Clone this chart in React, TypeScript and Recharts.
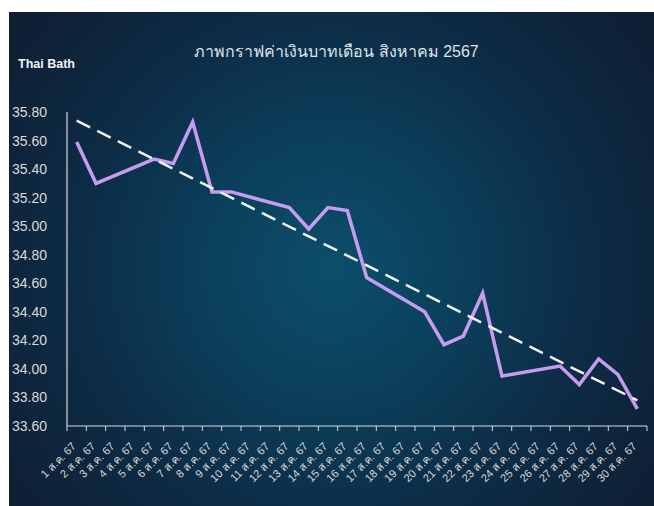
import React from "react";
import { LineChart, Line, XAxis, YAxis } from "recharts";

const days: string[] = [
  "1 ส.ค. 67", "2 ส.ค. 67", "3 ส.ค. 67", "4 ส.ค. 67", "5 ส.ค. 67",
  "6 ส.ค. 67", "7 ส.ค. 67", "8 ส.ค. 67", "9 ส.ค. 67", "10 ส.ค. 67",
  "11 ส.ค. 67", "12 ส.ค. 67", "13 ส.ค. 67", "14 ส.ค. 67", "15 ส.ค. 67",
  "16 ส.ค. 67", "17 ส.ค. 67", "18 ส.ค. 67", "19 ส.ค. 67", "20 ส.ค. 67",
  "21 ส.ค. 67", "22 ส.ค. 67", "23 ส.ค. 67", "24 ส.ค. 67", "25 ส.ค. 67",
  "26 ส.ค. 67", "27 ส.ค. 67", "28 ส.ค. 67", "29 ส.ค. 67", "30 ส.ค. 67",
];

const rates: (number | null)[] = [
  35.59, 35.30, null, null, 35.47,
  35.44, 35.73, 35.24, 35.24, null,
  null, 35.13, 34.98, 35.13, 35.11,
  34.64, null, null, 34.40, 34.17,
  34.23, 34.53, 33.95, null, null,
  34.02, 33.89, 34.07, 33.96, 33.72,
];

// linear trend line endpoints
const trendStart = 35.74;
const trendEnd = 33.78;

const yTicks: number[] = [33.6, 33.8, 34.0, 34.2, 34.4, 34.6, 34.8, 35.0, 35.2, 35.4, 35.6, 35.8];

const title = "ภาพกราฟค่าเงินบาทเดือน สิงหาคม 2567";
const yTitle = "Thai Bath";

const data = days.map((d, i) => ({
  day: d,
  rate: rates[i],
  trend: i === 0 ? trendStart : i === days.length - 1 ? trendEnd : null,
}));

const FONT = '"Liberation Sans", Arial, "Noto Sans", sans-serif';
const AXIS = "#d9d9d9";

const XTick = (props: any) => {
  const { x, y, payload, index, visibleTicksCount } = props;
  const off = payload && payload.offset != null ? payload.offset : 580 / 30 / 2;
  const ty = y + 21;
  return (
    <g>
      <line x1={x - off} x2={x - off} y1={y} y2={y + 5} stroke={AXIS} strokeWidth={1} />
      {index === visibleTicksCount - 1 && (
        <line x1={x + off} x2={x + off} y1={y} y2={y + 5} stroke={AXIS} strokeWidth={1} />
      )}
      <text
        x={x}
        y={ty}
        transform={`rotate(-45 ${x} ${ty})`}
        textAnchor="end"
        fontSize={11}
        fill={AXIS}
        fontFamily={FONT}
      >
        {payload.value}
      </text>
    </g>
  );
};

export default function App() {
  return (
    <div
      style={{
        position: "absolute",
        left: 9,
        top: 12,
        width: 645,
        height: 494,
        overflow: "hidden",
        background:
          "radial-gradient(circle at 50% 52%, #0c4e6b 0%, #0b405c 30%, #0d2c46 62%, #0f1d32 100%)",
        fontFamily: FONT,
      }}
    >
      <div
        style={{
          position: "absolute",
          left: 0,
          width: 655,
          top: 27,
          textAlign: "center",
          fontSize: 16,
          color: "#dfe3e8",
          whiteSpace: "nowrap",
        }}
      >
        {title}
      </div>
      <div
        style={{
          position: "absolute",
          left: 9,
          top: 45,
          fontSize: 12.5,
          fontWeight: "bold",
          color: "#f2f2f2",
        }}
      >
        {yTitle}
      </div>
      <LineChart
        width={645}
        height={494}
        data={data}
        margin={{ top: 100, right: 7, left: 0, bottom: 0 }}
      >
        <XAxis
          dataKey="day"
          scale="band"
          interval={0}
          height={80}
          tickSize={0}
          tickMargin={0}
          tickLine={false}
          stroke={AXIS}
          axisLine={{ stroke: AXIS, strokeWidth: 1.2 }}
          tick={<XTick />}
        />
        <YAxis
          domain={[33.6, 35.8]}
          ticks={yTicks}
          width={58}
          tickSize={0}
          tickMargin={20}
          tickLine={false}
          axisLine={{ stroke: AXIS, strokeWidth: 1.2 }}
          tickFormatter={(v: number) => v.toFixed(2)}
          tick={{ fontSize: 14, fill: AXIS, fontFamily: FONT }}
          allowDataOverflow
        />
        <Line
          dataKey="rate"
          stroke="#c59cef"
          strokeWidth={3.5}
          dot={false}
          activeDot={false}
          connectNulls
          isAnimationActive={false}
          strokeLinejoin="miter"
        />
        <Line
          dataKey="trend"
          stroke="#f2f2f2"
          strokeWidth={2.5}
          strokeDasharray="15 8"
          dot={false}
          activeDot={false}
          connectNulls
          isAnimationActive={false}
        />
      </LineChart>
    </div>
  );
}
